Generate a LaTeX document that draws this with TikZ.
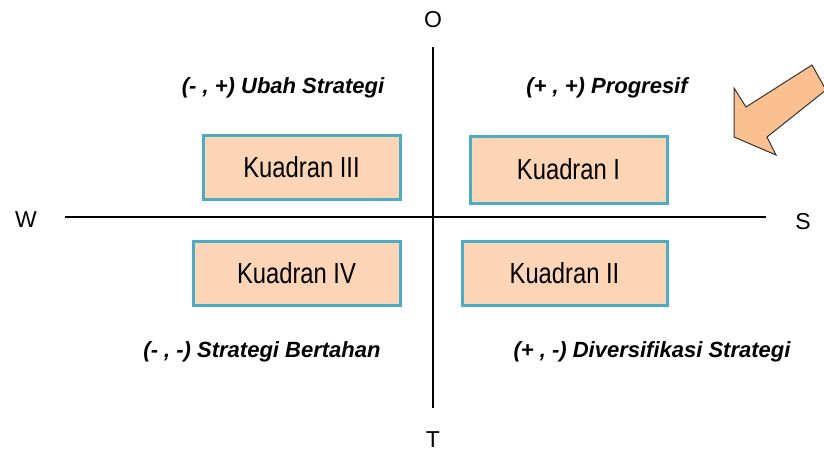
\documentclass[tikz,border=0pt]{standalone}
\usepackage{fontspec}
\setmainfont{Liberation Sans}
\newfontfamily\narrowsans{Liberation Sans}[FakeStretch=0.82]
\definecolor{kuadfill}{RGB}{251,213,181}
\definecolor{kuadline}{RGB}{75,172,198}
\definecolor{panahfill}{RGB}{250,192,144}
\tikzset{
  kuadran/.style={draw=kuadline,line width=3pt,fill=kuadfill,minimum height=64pt,
    font=\narrowsans\fontsize{29}{32}\selectfont},
  strategi/.style={font=\bfseries\itshape\fontsize{22}{26}\selectfont},
  arah/.style={font=\fontsize{23}{27}\selectfont},
}
\begin{document}
\begin{tikzpicture}[x=1pt,y=-1pt]
    \useasboundingbox (0,0) rectangle (824,455);

    % sumbu
    \node[arah] (O) at (433,20) {O};
    \node[arah] (T) at (433,440) {T};
    \node[arah] (W) at (26,220) {W};
    \node[arah] (S) at (803,222) {S};
    \coordinate (atas) at (433,47);
    \coordinate (bawah) at (433,408);
    \coordinate (kiri) at (65,217);
    \coordinate (kanan) at (766,217);
    \draw[line width=1.5pt] (atas) -- (bawah);
    \draw[line width=1.5pt] (kiri) -- (kanan);

    % kuadran
    \node[kuadran,minimum width=197pt] (k3) at (301.5,167) {Kuadran III};
    \node[kuadran,minimum width=197pt,minimum height=67pt] (k1) at (568.5,169.5) {Kuadran I};
    \node[kuadran,minimum width=207pt] (k4) at (296.5,273) {Kuadran IV};
    \node[kuadran,minimum width=205pt] (k2) at (564.5,273) {Kuadran II};

    \node[strategi] (s3) at (283,88) {(- , +) Ubah Strategi};
    \node[strategi] (s1) at (607,88) {(+ , +) Progresif};
    \node[strategi] (s4) at (262,352) {(- , -) Strategi Bertahan};
    \node[strategi] (s2) at (652,352) {(+ , -) Diversifikasi Strategi};

    % panah
    \draw[fill=panahfill,draw=black!80,line width=1pt,line join=miter]
      (812,65) -- (746,107) -- (734,88) -- (734,137) -- (776,155) -- (767,137) -- (826,90) -- cycle;
\end{tikzpicture}
\end{document}
